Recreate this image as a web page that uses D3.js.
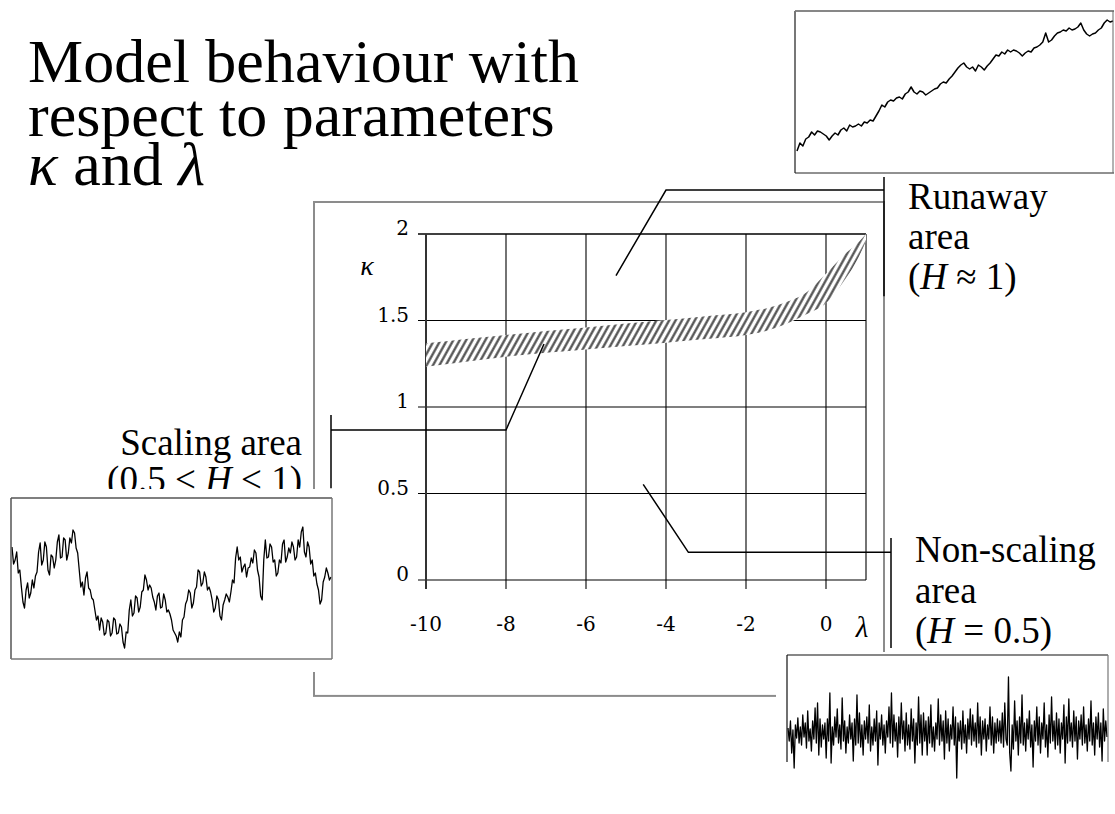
<!DOCTYPE html>
<html>
<head>
<meta charset="utf-8">
<script src="https://cdn.jsdelivr.net/npm/d3@7"></script>
<style>
  body { margin: 0; background: #fff; }
  svg { display: block; }
  text { font-family: "Liberation Serif", "Times New Roman", serif; fill: #000; }
  text.tick { font-family: "DejaVu Serif", "Liberation Serif", serif; }
</style>
</head>
<body>
<svg id="chart" width="1115" height="814"></svg>
<script>
// ---- axis ticks ----
const lambdaTicks = [-10, -8, -6, -4, -2, 0];
const kappaTicks = [0, 0.5, 1, 1.5, 2];

// ---- boundaries of the scaling band (kappa as a function of lambda) ----
const bandLambda = [-10, -9, -8, -7, -6, -5, -4, -3, -2, -1.5, -1, -0.5, 0, 0.5, 0.8, 1];
const bandUpper  = [1.368, 1.393, 1.416, 1.44, 1.46, 1.482, 1.503, 1.525, 1.548, 1.57, 1.605, 1.66, 1.77, 1.89, 1.95, 2.0];
const bandLower  = [1.233, 1.262, 1.291, 1.313, 1.333, 1.352, 1.372, 1.393, 1.416, 1.44, 1.48, 1.535, 1.6, 1.745, 1.86, 1.96];

// ---- sample paths shown for each regime ----
const runawaySeries = [22,30,27,34,36,41,38,42,41,39,37,33,37,40,38,43,45,42,48,46,47,49,47,51,50,53,52,57,62,68,
  66,71,73,72,75,76,74,79,81,86,81,79,82,81,78,80,82,84,85,89,91,90,94,97,101,105,108,110,106,104,
  106,102,108,106,103,107,110,114,118,117,121,119,123,121,123,122,120,117,120,122,121,125,126,128,131,140,131,133,137,140,
  141,143,142,145,143,144,146,150,143,139,137,139,140,143,145,150,153,151,152];

const scalingSeries = [113,96,100,108,87,90,73,58,52,70,77,62,67,80,72,84,88,108,117,95,
  100,118,113,90,85,105,103,92,100,118,125,102,103,122,120,100,107,122,117,130,
  127,112,107,90,73,78,65,82,88,72,70,62,60,50,40,44,30,42,38,25,
  27,40,38,24,27,42,40,26,27,36,33,18,12,28,27,50,60,44,47,64,
  62,48,53,68,70,85,80,70,75,72,63,58,50,64,67,52,53,66,60,48,
  50,46,40,30,27,24,18,28,23,40,43,56,60,70,67,52,57,70,73,90,
  88,74,77,88,83,70,73,68,60,48,52,64,60,44,40,55,60,66,63,58,
  68,80,77,102,113,100,103,88,93,96,83,92,93,102,97,110,107,90,83,64,
  60,100,120,102,103,116,113,98,100,84,87,100,97,116,120,98,103,112,107,118,
  113,100,103,120,113,128,133,108,103,118,113,96,100,84,87,76,70,56,60,78,
  83,92,87,80,83];

const nonScalingSeries = [5,-8,12,-20,3,-35,8,-5,15,-10, 6,-12,18,-4,10,-15,22,-8,4,-18,
  12,-6,25,-10,30,-22,14,-14,8,-6, 10,-25,14,-8,40,-30,6,-12,16,-4,
  24,-10,8,-16,35,-8,12,-20,6,-10, 18,-6,10,-28,14,-12,38,-10,20,-14,
  8,-22,12,-6,16,-10,28,-18,6,-12, 14,-8,22,-32,10,-6,18,-12,8,-20,
  12,-4,26,-10,40,-14,18,-8,10,-24, 16,-10,30,-6,12,-18,20,-12,8,-16,
  24,-8,14,-30,10,-12,36,-10,18,-22, 20,-8,12,-22,16,-10,28,-14,6,-18,
  10,-6,34,-12,18,-8,12,-26,22,-10, 14,-18,8,-6,26,-12,16,-45,10,-8,
  12,-16,22,-10,8,-20,14,-6,24,-12, 18,-8,10,-14,30,-10,16,-22,12,-6,
  14,-18,8,-6,26,-12,16,-20,10,-10, 14,-8,12,-10,20,-14,30,-6,-12,56,
  -20,-38,8,-16,32,-8,12,-22,16,-10, 38,-12,10,-18,14,-6,22,-14,8,-34,
  12,-8,26,-12,16,-20,10,-6,30,-14, 8,-24,18,-10,36,-8,12,-16,20,-12,
  14,-20,10,-6,28,-30,16,-10,34,-8, 10,-14,22,-8,16,-26,12,-6,18,-12,
  26,-10,8,-18,14,-8,32,-12,10,-22, 16,-6,20,-14,10,-28,24,-8,12,-4];

// ---- chart ----
const svg = d3.select("#chart");
const x = d3.scaleLinear().domain([-10, 1]).range([426, 866]);
const y = d3.scaleLinear().domain([0, 2]).range([580, 234]);

const defs = svg.append("defs");
const hatch = defs.append("pattern")
  .attr("id", "hatch")
  .attr("patternUnits", "userSpaceOnUse")
  .attr("width", 5.6).attr("height", 10)
  .attr("patternTransform", "rotate(29)");
hatch.append("line")
  .attr("x1", 1.4).attr("x2", 1.4).attr("y1", 0).attr("y2", 10)
  .attr("stroke", "#4a4a4a").attr("stroke-width", 2.2);

// outer grey frame around the diagram
svg.append("rect")
  .attr("x", x(-12.8)).attr("y", y(2.185))
  .attr("width", x(1.45) - x(-12.8)).attr("height", y(-0.67) - y(2.185))
  .attr("fill", "none").attr("stroke", "#8c8c8c").attr("stroke-width", 2);

// grid
const grid = svg.append("g");
grid.selectAll(".hg").data(kappaTicks).join("line")
  .attr("x1", x(-10) - 8).attr("x2", x(1))
  .attr("y1", d => y(d)).attr("y2", d => y(d))
  .attr("stroke", "#000").attr("stroke-width", d => d === 2 ? 1.5 : 1.1);
grid.selectAll(".vg").data(lambdaTicks).join("line")
  .attr("x1", d => x(d)).attr("x2", d => x(d))
  .attr("y1", y(2)).attr("y2", y(0) + 9)
  .attr("stroke", d => d === -10 ? "#333" : "#000")
  .attr("stroke-width", d => d === -10 ? 2 : 1.1);
grid.append("line")
  .attr("x1", x(1)).attr("x2", x(1)).attr("y1", y(2)).attr("y2", y(0))
  .attr("stroke", "#000").attr("stroke-width", 1.1);

// hatched band
const bandData = bandLambda.map((l, i) => ({ l, lo: bandLower[i], hi: bandUpper[i] }));
const band = d3.area()
  .x(d => x(d.l)).y0(d => y(d.lo)).y1(d => y(d.hi))
  .curve(d3.curveMonotoneX);
svg.append("path").datum(bandData).attr("d", band).attr("fill", "#fff");
svg.append("path").datum(bandData).attr("d", band).attr("fill", "url(#hatch)");

// leader lines
const leader = d3.line().x(d => x(d[0])).y(d => y(d[1]));
const leaders = [
  [[-5.25, 1.76], [-4.0, 2.254], [1.45, 2.254]],
  [[1.45, 2.33], [1.45, 1.64]],
  [[-7.05, 1.364], [-8, 0.867], [-12.375, 0.867]],
  [[-12.375, 0.954], [-12.375, 0.53]],
  [[-4.57, 0.553], [-3.44, 0.16], [1.625, 0.16]],
  [[1.625, 0.243], [1.625, -0.393]]
];
svg.selectAll(".leader").data(leaders).join("path")
  .attr("d", leader).attr("fill", "none")
  .attr("stroke", "#000").attr("stroke-width", 1.5);

// tick labels
svg.selectAll(".ky").data(kappaTicks).join("text")
  .attr("class", "tick")
  .attr("x", x(-10) - 17).attr("y", d => y(d) + 1)
  .attr("text-anchor", "end").attr("font-size", 20)
  .text(d => d3.format("~g")(d));
svg.selectAll(".lx").data(lambdaTicks).join("text")
  .attr("class", "tick")
  .attr("x", d => x(d)).attr("y", 631)
  .attr("text-anchor", "middle").attr("font-size", 20)
  .text(d => d);

svg.append("text").attr("x", 367).attr("y", 275)
  .attr("text-anchor", "middle").attr("font-size", 28).attr("font-style", "italic").text("κ");
svg.append("text").attr("x", 862).attr("y", 637)
  .attr("text-anchor", "middle").attr("font-size", 29).attr("font-style", "italic").text("λ");

// region labels
function label(xp, yp, lines, anchor) {
  const t = svg.append("text").attr("font-size", 37).attr("text-anchor", anchor || "start");
  lines.forEach((parts, i) => {
    const ln = t.append("tspan").attr("x", xp).attr("y", yp[i]);
    parts.forEach(p => ln.append("tspan").attr("font-style", p.i ? "italic" : null).text(p.t));
  });
}
label(908, [209, 249, 289], [[{ t: "Runaway" }], [{ t: "area" }], [{ t: "(" }, { t: "H", i: 1 }, { t: " ≈ 1)" }]]);
label(302, [455, 492], [[{ t: "Scaling area" }], [{ t: "(0.5 < " }, { t: "H", i: 1 }, { t: " < 1)" }]], "end");
label(915, [562, 603, 643], [[{ t: "Non-scaling" }], [{ t: "area" }], [{ t: "(" }, { t: "H", i: 1 }, { t: " = 0.5)" }]]);

// inset panels with sample paths
function inset(bg, box, series, ext, yDomain, yRange, sw) {
  svg.append("rect").attr("x", bg[0]).attr("y", bg[1]).attr("width", bg[2]).attr("height", bg[3]).attr("fill", "#fff");
  const g = svg.append("g");
  const sx = d3.scaleLinear().domain([0, series.length - 1]).range(ext);
  const sy = d3.scaleLinear().domain(yDomain).range(yRange);
  g.append("path").datum(series)
    .attr("d", d3.line().x((d, i) => sx(i)).y(d => sy(d)))
    .attr("fill", "none").attr("stroke", "#000").attr("stroke-width", sw).attr("stroke-linejoin", "round");
  box.forEach(b => g.append("line")
    .attr("x1", b[0]).attr("y1", b[1]).attr("x2", b[2]).attr("y2", b[3])
    .attr("stroke", b[4]).attr("stroke-width", b[5]));
}
inset([789, 0, 326, 177],
  [[795, 11, 1114, 11, "#111", 1.2], [795, 11, 795, 173, "#777", 2], [795, 173, 1114, 173, "#222", 1], [1113, 11, 1113, 173, "#666", 1]],
  runawaySeries, [797, 1113], [0, 160], [173, 13], 1.5);
inset([0, 489, 340, 183],
  [[11, 498, 332, 498, "#555", 1.5], [11, 498, 11, 659, "#555", 1.5], [11, 659, 332, 659, "#777", 1.5], [332, 498, 332, 659, "#777", 1.5]],
  scalingSeries, [12, 331], [0, 162], [660, 498], 1.3);
inset([776, 652, 339, 162],
  [[787, 655, 1108, 655, "#111", 1.2], [787, 655, 787, 762, "#111", 1.2], [1108, 655, 1108, 762, "#777", 1.2]],
  nonScalingSeries, [788, 1107], [-50, 50], [783, 683], 1.3);

// title
const title = svg.append("text").attr("font-size", 62);
["Model behaviour with", "respect to parameters"].forEach((l, i) =>
  title.append("tspan").attr("x", 28).attr("y", [82, 136][i]).text(l));
const t3 = title.append("tspan").attr("x", 28).attr("y", 185);
t3.append("tspan").attr("font-style", "italic").text("κ");
t3.append("tspan").text(" and ");
t3.append("tspan").attr("font-style", "italic").text("λ");
</script>
</body>
</html>
